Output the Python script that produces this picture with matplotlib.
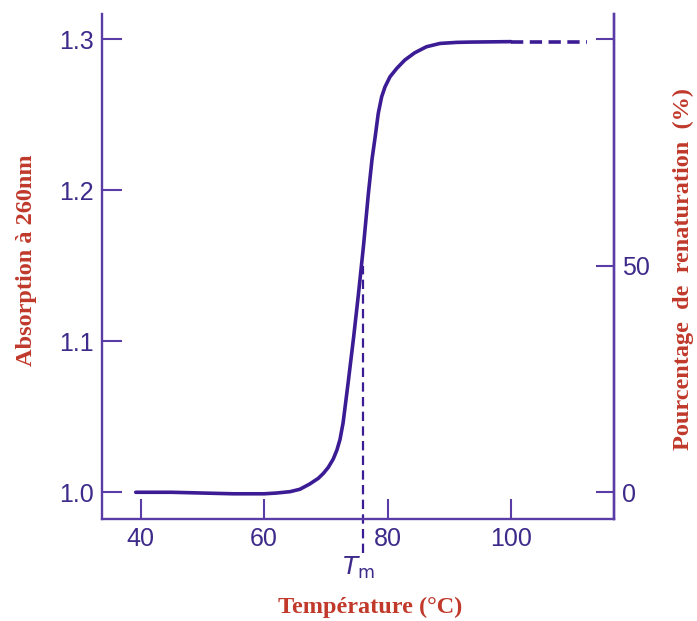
import matplotlib
matplotlib.use("Agg")
import matplotlib.pyplot as plt

# ---- data ----
temperature = [39.2, 45, 50, 55, 60, 62, 64.2, 65.8, 67.4, 68.8, 69.6, 70.4, 71.2,
               71.8, 72.3, 72.8, 73.6, 74.5, 75.3, 76.1, 76.9, 77.5, 78.0, 78.5,
               79.05, 79.6, 80.4, 81.5, 82.8, 84.4, 86.3, 88.5, 91.2, 93.4, 100]
absorbance = [1.0, 1.0, 0.9995, 0.999, 0.999, 0.9995, 1.0004, 1.0020, 1.0055, 1.0093,
              1.0125, 1.0165, 1.0220, 1.0280, 1.0350, 1.0460, 1.0720, 1.1025, 1.1318,
              1.163, 1.198, 1.221, 1.2355, 1.2510, 1.2620, 1.2686, 1.2752, 1.2808,
              1.2863, 1.2911, 1.2951, 1.2973, 1.2980, 1.2982, 1.2985]
temp_ext = [100, 112.4]
abs_ext = [1.2985, 1.2985]
tm_value = 76.0
tm_abs = 1.15

x_ticks = [40, 60, 80, 100]
y_ticks = [1.0, 1.1, 1.2, 1.3]
y_ticklabels = ["1.0", "1.1", "1.2", "1.3"]
pct_ticks = [0, 50, 100]
pct_ticklabels = ["0", "50", ""]

curve_col = "#3b1c94"
axis_col = "#5a3ca6"
text_col = "#3d2a8a"
label_col = "#c0392b"

fig = plt.figure(figsize=(6.97, 6.21), dpi=100)
ax = fig.add_axes([102/697, 1-519/621, (614-102)/697, (519-14)/621])

ax.plot(temperature, absorbance, color=curve_col, lw=2.6,
        solid_capstyle="round", solid_joinstyle="round")
ax.plot(temp_ext, abs_ext, color=curve_col, lw=2.6, dashes=(3.4, 1.8))
ax.plot([tm_value, tm_value], [0.9598, tm_abs], color=curve_col, lw=1.6,
        dashes=(4.2, 2.4), clip_on=False)

ax.set_xlim(33.73, 116.7)
ymin, ymax = 0.9823, 1.3168
ax.set_ylim(ymin, ymax)
ax.set_xticks(x_ticks)
ax.set_xticklabels([str(v) for v in x_ticks])
ax.set_yticks(y_ticks)
ax.set_yticklabels(y_ticklabels)

ax.spines["top"].set_visible(False)
for s in ["left", "bottom", "right"]:
    ax.spines[s].set_color(axis_col)
    ax.spines[s].set_linewidth(1.7)

ax.tick_params(axis="both", direction="in", length=14.5, width=1.5,
               color=axis_col, labelcolor=text_col, pad=6, labelsize=18)
for lab in ax.get_xticklabels() + ax.get_yticklabels():
    lab.set_fontfamily("Liberation Sans")

ax2 = ax.twinx()
ax2.set_ylim((ymin - 1.0) / 0.003, (ymax - 1.0) / 0.003)
ax2.set_yticks(pct_ticks)
ax2.set_yticklabels(pct_ticklabels)
for s in ["top", "left", "bottom"]:
    ax2.spines[s].set_visible(False)
ax2.spines["right"].set_color(axis_col)
ax2.spines["right"].set_linewidth(1.7)
ax2.tick_params(axis="y", direction="in", length=13, width=1.5,
                color=axis_col, labelcolor=text_col, pad=6, labelsize=18)
for lab in ax2.get_yticklabels():
    lab.set_fontfamily("Liberation Sans")

ax.text(75.2, 0.9498, r"$T_{\mathrm{m}}$", ha="center", va="center",
        fontsize=18, color=text_col)

lab_font = dict(family="Liberation Serif", weight="bold", size=17.5, color=label_col)
fig.text(370/697, 1-607/621, "Température (°C)", ha="center", va="center", **lab_font)
fig.text(27/697, 1-260/621, "Absorption à 260nm", ha="center", va="center",
         rotation=90, **lab_font)
fig.text(683/697, 1-269/621, "Pourcentage  de  renaturation  (%)", ha="center",
         va="center", rotation=90, **lab_font)

fig.savefig("out.png", dpi=100)
